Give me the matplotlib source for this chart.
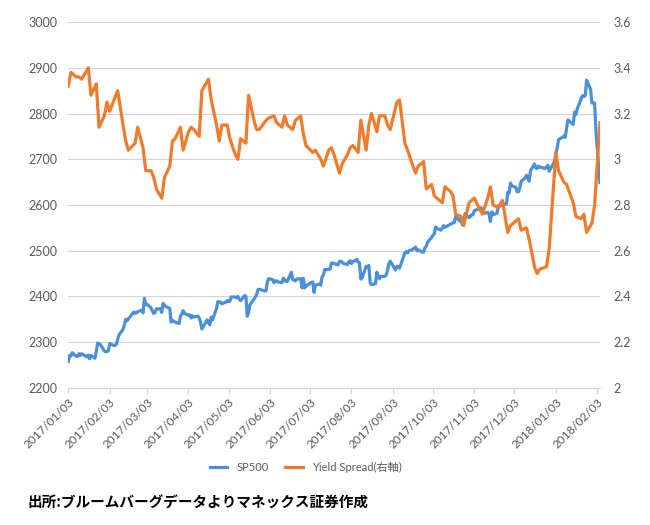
import pandas as pd
import numpy as np
import matplotlib
matplotlib.use("Agg")
import matplotlib.pyplot as plt
import matplotlib.dates as mdates
from matplotlib.ticker import FuncFormatter

plt.rcParams['font.family'] = ['Lato', 'Noto Sans CJK JP', 'DejaVu Sans']

# 取引日 (米国休場日を除く)
holidays = ['2017-01-16', '2017-02-20', '2017-04-14', '2017-05-29', '2017-07-04',
            '2017-09-04', '2017-11-23', '2017-12-25', '2018-01-01', '2018-01-15']
trade_days = pd.bdate_range('2017-01-03', '2018-02-05', freq='C', holidays=holidays)

# SP500 終値 (月ごと)
sp_jan17 = [2258, 2271, 2270, 2277, 2269, 2269, 2275, 2271, 2275, 2268, 2272, 2264, 2271, 2265, 2280, 2298, 2297, 2295, 2281, 2279]
sp_feb17 = [2280, 2281, 2297, 2293, 2293, 2295, 2307, 2316, 2328, 2338, 2350, 2347, 2351, 2366, 2363, 2364, 2367, 2370, 2364]
sp_mar17 = [2396, 2382, 2383, 2375, 2368, 2363, 2365, 2373, 2373, 2365, 2385, 2381, 2378, 2374, 2344, 2348, 2346, 2344, 2341, 2358, 2361, 2369, 2363]
sp_apr17 = [2359, 2360, 2353, 2358, 2355, 2357, 2353, 2345, 2329, 2349, 2342, 2338, 2355, 2349, 2374, 2389, 2388, 2388, 2384]
sp_may17 = [2388, 2391, 2389, 2390, 2399, 2399, 2397, 2400, 2394, 2391, 2402, 2400, 2357, 2365, 2382, 2394, 2399, 2404, 2415, 2416, 2412, 2412]
sp_jun17 = [2431, 2439, 2437, 2430, 2434, 2434, 2432, 2430, 2440, 2437, 2433, 2433, 2453, 2437, 2436, 2434, 2438, 2439, 2419, 2440, 2419, 2423]
sp_jul17 = [2429, 2432, 2409, 2425, 2427, 2425, 2443, 2447, 2459, 2459, 2460, 2473, 2473, 2472, 2469, 2477, 2477, 2475, 2472, 2470]
sp_aug17 = [2476, 2478, 2472, 2476, 2481, 2475, 2474, 2438, 2441, 2466, 2465, 2468, 2430, 2426, 2428, 2453, 2444, 2439, 2444, 2444, 2447, 2457, 2472]
sp_sep17 = [2477, 2458, 2466, 2465, 2462, 2488, 2496, 2498, 2495, 2500, 2503, 2506, 2508, 2500, 2502, 2497, 2497, 2507, 2510, 2519]
sp_oct17 = [2529, 2534, 2537, 2552, 2549, 2545, 2550, 2555, 2551, 2553, 2558, 2559, 2561, 2562, 2575, 2565, 2569, 2557, 2560, 2581, 2572, 2575]
sp_nov17 = [2579, 2579, 2588, 2591, 2590, 2594, 2585, 2582, 2584, 2579, 2564, 2585, 2579, 2582, 2599, 2597, 2602, 2602, 2627, 2626, 2648]
sp_dec17 = [2642, 2639, 2629, 2629, 2637, 2652, 2659, 2665, 2662, 2652, 2675, 2690, 2681, 2680, 2685, 2683, 2680, 2683, 2687, 2674]
sp_jan18 = [2695, 2713, 2724, 2743, 2748, 2751, 2748, 2767, 2786, 2776, 2803, 2798, 2810, 2833, 2839, 2837, 2839, 2873, 2853, 2823, 2824]
sp_feb18 = [2822, 2762, 2649]

# Yield Spread (右軸) 1取引日おき
ys_jan17 = [3.32, 3.38, 3.36, 3.36, 3.35, 3.40, 3.28, 3.33, 3.14, 3.19]
ys_feb17 = [3.25, 3.21, 3.27, 3.30, 3.15, 3.08, 3.04, 3.07, 3.14, 3.05]
ys_mar17 = [2.95, 2.95, 2.92, 2.87, 2.83, 2.92, 2.97, 3.08, 3.09, 3.14, 3.04]
ys_apr17 = [3.12, 3.14, 3.13, 3.10, 3.30, 3.35, 3.26, 3.15, 3.08, 3.15]
ys_may17 = [3.15, 3.09, 3.02, 3.00, 3.09, 3.07, 3.28, 3.17, 3.13, 3.13, 3.17]
ys_jun17 = [3.18, 3.19, 3.16, 3.14, 3.19, 3.15, 3.13, 3.17, 3.19, 3.11, 3.06]
ys_jul17 = [3.03, 3.04, 3.00, 2.97, 3.04, 3.05, 3.02, 2.94, 2.98, 3.02]
ys_aug17 = [3.05, 3.06, 3.03, 3.17, 3.04, 3.15, 3.20, 3.12, 3.19, 3.19, 3.15]
ys_sep17 = [3.13, 3.25, 3.26, 3.07, 3.04, 2.97, 2.94, 2.97, 2.99, 2.87]
ys_oct17 = [2.89, 2.84, 2.83, 2.81, 2.88, 2.86, 2.84, 2.76, 2.75, 2.71, 2.81]
ys_nov17 = [2.82, 2.83, 2.78, 2.76, 2.83, 2.88, 2.80, 2.79, 2.82, 2.68, 2.71]
ys_dec17 = [2.73, 2.74, 2.69, 2.70, 2.65, 2.53, 2.50, 2.52, 2.53, 2.61]
ys_jan18 = [3.03, 2.95, 2.90, 2.89, 2.81, 2.75, 2.74, 2.76, 2.68, 2.72]
ys_feb18 = [2.80, 3.16]

sp500 = np.concatenate([sp_jan17, sp_feb17, sp_mar17, sp_apr17, sp_may17, sp_jun17, sp_jul17,
                        sp_aug17, sp_sep17, sp_oct17, sp_nov17, sp_dec17, sp_jan18, sp_feb18])
spread = np.concatenate([ys_jan17, ys_feb17, ys_mar17, ys_apr17, ys_may17, ys_jun17, ys_jul17,
                         ys_aug17, ys_sep17, ys_oct17, ys_nov17, ys_dec17, ys_jan18, ys_feb18])
spread_days = trade_days[::2]

tick_dates = pd.date_range('2017-01-01', '2018-02-01', freq='MS') + pd.Timedelta(days=2)

blue = '#4A90D9'
orange = '#F07B2C'
txt = '#595959'
grid_c = '#D4D4D4'

fig = plt.figure(figsize=(6.5, 5.25), dpi=100)
ax = fig.add_axes([0.105, 0.261, 0.818, 0.697])
ax2 = ax.twinx()

l1, = ax.plot(trade_days, sp500, color=blue, lw=2.3, label='SP500', solid_joinstyle='round')
l2, = ax2.plot(spread_days, spread, color=orange, lw=2.3, label='Yield Spread(右軸)', solid_joinstyle='round')

ax.set_ylim(2200, 3000)
ax.set_yticks(np.arange(2200, 3001, 100))
ax2.set_ylim(2.0, 3.6)
ax2.set_yticks(np.arange(2.0, 3.61, 0.2))
ax2.yaxis.set_major_formatter(FuncFormatter(lambda v, p: '%g' % round(v, 1)))

ax.set_xlim(pd.Timestamp('2017-01-03'), pd.Timestamp('2018-02-05'))
ax.set_xticks(tick_dates)
ax.xaxis.set_major_formatter(mdates.DateFormatter('%Y/%m/%d'))
for lab in ax.get_xticklabels():
    lab.set_rotation(45)
    lab.set_ha('right')
    lab.set_rotation_mode('anchor')

ax.grid(axis='y', color=grid_c, lw=0.8)
ax.set_axisbelow(True)
for a in (ax, ax2):
    for s in ('top', 'left', 'right'):
        a.spines[s].set_visible(False)
    a.spines['bottom'].set_color(grid_c)
ax.tick_params(axis='y', length=0, labelsize=9, colors=txt, pad=8)
ax2.tick_params(axis='y', length=0, labelsize=9, colors=txt, pad=10)
ax.tick_params(axis='x', length=4, color=grid_c, labelsize=8.5, labelcolor=txt, pad=2)

fig.legend(handles=[l1, l2], loc='center', bbox_to_anchor=(0.47, 0.11), ncol=2,
           frameon=False, fontsize=8, handlelength=1.6, columnspacing=1.5, labelcolor=txt)

fig.text(0.043, 0.042, '出所:ブルームバーグデータよりマネックス証券作成', fontsize=10.5,
         fontweight='bold', family=['Noto Sans CJK JP', 'DejaVu Sans'], va='center', ha='left')

fig.savefig('out.png', dpi=100)
